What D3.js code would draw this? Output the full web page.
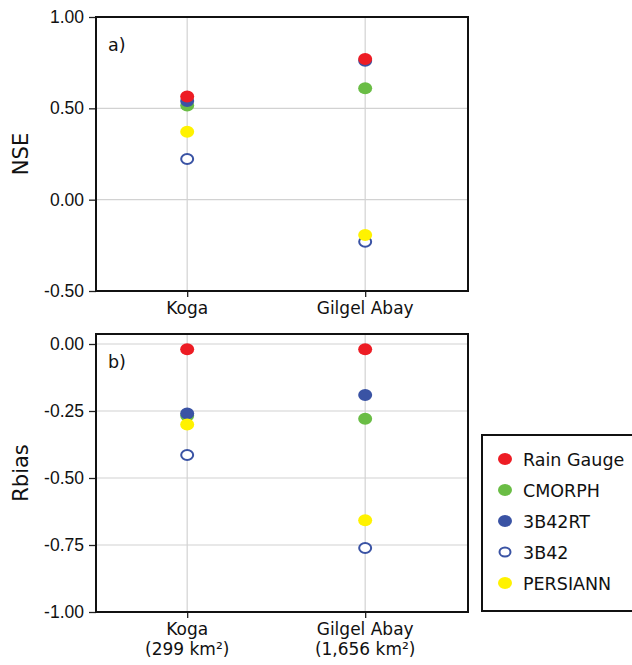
<!DOCTYPE html>
<html>
<head>
<meta charset="utf-8">
<script src="https://cdn.jsdelivr.net/npm/d3@7"></script>
<style>
  body { margin: 0; background: #fff; }
  svg { display: block; font-family: "DejaVu Sans", Verdana, sans-serif; }
</style>
</head>
<body>
<div id="chart"></div>
<script>
const width = 632, height = 665;

const sites = ["Koga", "Gilgel Abay"];
const areas = ["(299 km\u00B2)", "(1,656 km\u00B2)"];
// drawing order (last on top)
const products = ["CMORPH", "3B42RT", "3B42", "PERSIANN", "Rain Gauge"];
const legendOrder = ["Rain Gauge", "CMORPH", "3B42RT", "3B42", "PERSIANN"];

const nse = {
    "Rain Gauge": [0.565, 0.77],
    "CMORPH": [0.515, 0.61],
    "3B42RT": [0.54, 0.76],
    "3B42": [0.223, -0.23],
    "PERSIANN": [0.372, -0.193]
};
const rbias = {
    "Rain Gauge": [-0.02, -0.02],
    "CMORPH": [-0.268, -0.279],
    "3B42RT": [-0.259, -0.19],
    "3B42": [-0.414, -0.761],
    "PERSIANN": [-0.30, -0.658]
};

const nseTicks = [1.0, 0.5, 0.0, -0.5];
const rbiasTicks = [0.0, -0.25, -0.5, -0.75, -1.0];

const color = d3.scaleOrdinal()
    .domain(["Rain Gauge", "CMORPH", "3B42RT", "3B42", "PERSIANN"])
    .range(["#ed1c24", "#6abd45", "#3a53a4", "#3a53a4", "#fff200"]);

let svg = d3.select("#chart").append("svg")
    .attr("width", width)
    .attr("height", height);

svg.append("rect").attr("width", width).attr("height", height).attr("fill", "#fff");

function panel(cfg) {
    let left = 96, right = 468;
    let x = d3.scalePoint()
        .domain(sites)
        .range([left, right])
        .padding(0.545)
        .align(0.47);
    let y = d3.scaleLinear()
        .domain(cfg.domain)
        .range([cfg.bottom, cfg.top]);

    let g = svg.append("g");

    // grid
    g.append("g").selectAll("line.h")
        .data(cfg.ticks)
        .join("line")
            .attr("x1", left).attr("x2", right)
            .attr("y1", d => y(d)).attr("y2", d => y(d))
            .attr("stroke", "#d2d2d2").attr("stroke-width", 1.2);
    g.append("g").selectAll("line.v")
        .data(sites)
        .join("line")
            .attr("x1", d => x(d)).attr("x2", d => x(d))
            .attr("y1", cfg.top).attr("y2", cfg.bottom)
            .attr("stroke", "#d2d2d2").attr("stroke-width", 1.2);

    // axes
    let yAxis = g.append("g")
        .attr("transform", `translate(${left},0)`)
        .call(d3.axisLeft(y).tickValues(cfg.ticks).tickFormat(d => d.toFixed(2)).tickSize(7).tickPadding(5))
        .call(g => g.select(".domain").remove());
    yAxis.selectAll("text").attr("font-size", 17.5).attr("fill", "#111").attr("font-family", null);
    yAxis.selectAll("line").attr("stroke", "#222").attr("stroke-width", 1.3);

    let xAxis = g.append("g")
        .attr("transform", `translate(0,${cfg.bottom})`)
        .call(d3.axisBottom(x).tickSize(6).tickPadding(5).tickFormat(""))
        .call(g => g.select(".domain").remove());
    xAxis.selectAll("line").attr("stroke", "#222").attr("stroke-width", 1.3);

    let lab = g.append("g").selectAll("text")
        .data(sites)
        .join("text")
            .attr("x", d => x(d))
            .attr("y", cfg.bottom + 23)
            .attr("text-anchor", "middle")
            .attr("font-size", 17)
            .attr("fill", "#111");
    lab.append("tspan").text(d => d);
    if (cfg.areas) {
        lab.append("tspan")
            .attr("x", d => x(d))
            .attr("dy", 20)
            .text((d, i) => areas[i]);
    }

    // frame
    g.append("rect")
        .attr("x", left).attr("y", cfg.top)
        .attr("width", right - left).attr("height", cfg.bottom - cfg.top)
        .attr("fill", "none").attr("stroke", "#111").attr("stroke-width", 2);

    // y title
    g.append("text")
        .attr("transform", `translate(28,${(cfg.top + cfg.bottom) / 2}) rotate(-90)`)
        .attr("text-anchor", "middle")
        .attr("font-size", 21)
        .attr("fill", "#111")
        .text(cfg.title);

    g.append("text")
        .attr("x", left + 12).attr("y", cfg.top + 34)
        .attr("font-size", 17.5)
        .attr("fill", "#111")
        .text(cfg.label);

    // points
    let pts = [];
    products.forEach(p => sites.forEach((s, i) => pts.push({product: p, site: s, value: cfg.data[p][i]})));
    g.append("g").selectAll("ellipse")
        .data(pts)
        .join("ellipse")
            .attr("cx", d => x(d.site))
            .attr("cy", d => y(d.value))
            .attr("rx", d => d.product == "3B42" ? 6 : 7)
            .attr("ry", d => d.product == "3B42" ? 5 : 6)
            .attr("fill", d => d.product == "3B42" ? "#fff" : color(d.product))
            .attr("stroke", d => d.product == "3B42" ? color(d.product) : "none")
            .attr("stroke-width", 2);
}

panel({top: 17, bottom: 291, domain: [-0.5, 1.0], ticks: nseTicks, data: nse, title: "NSE", label: "a)"});
panel({top: 334, bottom: 612, domain: [-1.0, 0.0373], ticks: rbiasTicks, data: rbias, title: "Rbias", label: "b)", areas: true});

// legend
let leg = svg.append("g");
leg.append("rect")
    .attr("x", 482).attr("y", 435)
    .attr("width", 170).attr("height", 176)
    .attr("fill", "#fff").attr("stroke", "#111").attr("stroke-width", 2);
let item = leg.selectAll("g.item")
    .data(legendOrder)
    .join("g")
        .attr("transform", (d, i) => `translate(505,${459 + i * 31})`);
item.append("ellipse")
    .attr("rx", d => d == "3B42" ? 5.5 : 7)
    .attr("ry", d => d == "3B42" ? 4.5 : 6)
    .attr("fill", d => d == "3B42" ? "#fff" : color(d))
    .attr("stroke", d => d == "3B42" ? color(d) : "none")
    .attr("stroke-width", 2);
item.append("text")
    .attr("x", 18).attr("y", 6.5)
    .attr("font-size", 17.5)
    .attr("fill", "#111")
    .text(d => d);
</script>
</body>
</html>
